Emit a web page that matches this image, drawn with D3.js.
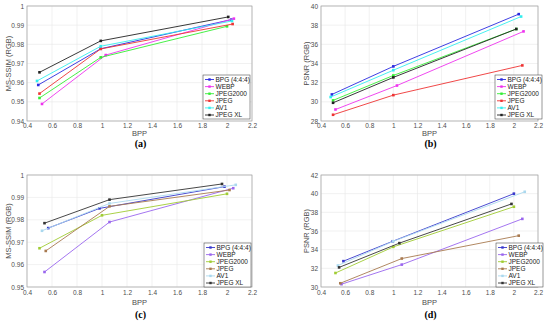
<!DOCTYPE html>
<html>
<head>
<meta charset="utf-8">
<script src="https://cdn.jsdelivr.net/npm/d3@7"></script>
<style>
  body { margin: 0; background: #fff; }
  svg { font-family: "Liberation Sans", Arial, sans-serif; }
  .tick text { fill: #4d4d4d; font-size: 6.5px; }
  .axis-label { fill: #4d4d4d; font-size: 7.5px; }
  .panel-label { font-family: "Liberation Serif", "DejaVu Serif", serif; font-weight: bold; font-size: 10px; }
  .legend text { font-size: 6.5px; fill: #222; }
</style>
</head>
<body>
<svg width="550" height="334"></svg>
<script>
var codecs = ["BPG (4:4:4)", "WEBP", "JPEG2000", "JPEG", "AV1", "JPEG XL"];
var xTicks = [0.4, 0.6, 0.8, 1, 1.2, 1.4, 1.6, 1.8, 2, 2.2];

// (a) MS-SSIM
var aBpp  = [[0.49, 0.99, 2.035], [0.52, 1.03, 2.055], [0.50, 0.99, 2.0], [0.50, 0.99, 2.045], [0.48, 0.99, 2.04], [0.50, 0.99, 2.01]];
var aSsim = [[0.9588, 0.9777, 0.9929], [0.9489, 0.9744, 0.9934], [0.9520, 0.9732, 0.9894], [0.9543, 0.9776, 0.9906], [0.9609, 0.9790, 0.9922], [0.9654, 0.9818, 0.9943]];

// (b) PSNR
var bBpp  = [[0.49, 1.0, 2.04], [0.52, 1.03, 2.08], [0.50, 1.0, 2.02], [0.50, 1.0, 2.07], [0.48, 1.0, 2.06], [0.50, 1.0, 2.02]];
var bPsnr = [[30.77, 33.7, 39.15], [29.2, 31.7, 37.35], [30.15, 32.75, 37.6], [28.65, 30.7, 33.8], [30.5, 33.3, 38.9], [29.9, 32.55, 37.6]];

// (c) MS-SSIM
var cBpp  = [[0.57, 0.98, 1.98], [0.54, 1.06, 2.05], [0.50, 1.0, 2.0], [0.55, 1.06, 2.02], [0.52, 1.06, 2.07], [0.54, 1.06, 1.96]];
var cSsim = [[0.9763, 0.9851, 0.9948], [0.9567, 0.9790, 0.9941], [0.9673, 0.9820, 0.9916], [0.9661, 0.9860, 0.9933], [0.9751, 0.9873, 0.9956], [0.9785, 0.9890, 0.9960]];

// (d) PSNR
var dBpp  = [[0.586, 0.995, 2.0], [0.57, 1.07, 2.07], [0.52, 1.0, 2.0], [0.56, 1.07, 2.04], [0.54, 1.0, 2.09], [0.55, 1.05, 1.98]];
var dPsnr = [[32.77, 34.9, 40.0], [30.3, 32.4, 37.3], [31.5, 34.3, 38.6], [30.4, 33.05, 35.5], [32.3, 34.9, 40.2], [32.1, 34.7, 38.9]];

var coloursA = ["#2a2ae0", "#ee33ee", "#33ee33", "#ee3333", "#33eeee", "#222222"];
var coloursC = ["#3838cc", "#9a66ee", "#a0cc33", "#a87a50", "#aad8ee", "#333333"];

var svg = d3.select("svg");

var panels = [
  {label: "(a)", ylab: "MS-SSIM (RGB)", box: [27, 252, 6, 121], ydom: [0.94, 1], yticks: d3.range(0.94, 1.0001, 0.01), bpp: aBpp, val: aSsim, col: coloursA, pad: 2, xlabY: 135.5, tagY: 147, ylabX: 8, leg: [203, 75]},
  {label: "(b)", ylab: "PSNR (RGB)", box: [321, 538, 6, 121], ydom: [28, 40], yticks: d3.range(28, 40.1, 2), bpp: bBpp, val: bPsnr, col: coloursA, pad: 2, xlabY: 135.5, tagY: 147, ylabX: 306, leg: [495, 75]},
  {label: "(c)", ylab: "MS-SSIM (RGB)", box: [27, 252, 175, 287], ydom: [0.95, 1], yticks: d3.range(0.95, 1.0001, 0.01), bpp: cBpp, val: cSsim, col: coloursC, pad: 3, xlabY: 304.5, tagY: 318, ylabX: 8, leg: [204, 243]},
  {label: "(d)", ylab: "PSNR (RGB)", box: [321, 538, 175, 287], ydom: [30, 42], yticks: d3.range(30, 42.1, 2), bpp: dBpp, val: dPsnr, col: coloursC, pad: 3, xlabY: 304.5, tagY: 318, ylabX: 306, leg: [496, 243]}
];

panels.forEach(function(p) {
  var x = d3.scaleLinear().domain([0.4, 2.2]).range([p.box[0], p.box[1]]);
  var y = d3.scaleLinear().domain(p.ydom).range([p.box[3], p.box[2]]);
  var g = svg.append("g");

  // grid
  g.selectAll(".gx").data(xTicks).enter().append("line")
      .attr("x1", function(d) { return x(d); }).attr("x2", function(d) { return x(d); })
      .attr("y1", p.box[2]).attr("y2", p.box[3])
      .attr("stroke", "#e8e8e8").attr("stroke-width", 0.6);
  g.selectAll(".gy").data(p.yticks).enter().append("line")
      .attr("x1", p.box[0]).attr("x2", p.box[1])
      .attr("y1", function(d) { return y(d); }).attr("y2", function(d) { return y(d); })
      .attr("stroke", "#e8e8e8").attr("stroke-width", 0.6);

  // axes
  var xa = g.append("g").attr("transform", "translate(0," + p.box[3] + ")")
      .call(d3.axisBottom(x).tickValues(xTicks).tickSize(0).tickPadding(p.pad).tickFormat(d3.format("~g")));
  var ya = g.append("g").attr("transform", "translate(" + p.box[0] + ",0)")
      .call(d3.axisLeft(y).tickValues(p.yticks).tickSize(0).tickPadding(3).tickFormat(function(d) { return +d.toFixed(2); }));
  xa.select(".domain").remove();
  ya.select(".domain").remove();

  g.append("rect")
      .attr("x", p.box[0]).attr("y", p.box[2])
      .attr("width", p.box[1] - p.box[0]).attr("height", p.box[3] - p.box[2])
      .attr("fill", "none").attr("stroke", "#a0a0a0").attr("stroke-width", 0.7);

  // series
  var line = d3.line().x(function(d) { return x(d[0]); }).y(function(d) { return y(d[1]); });
  codecs.forEach(function(c, i) {
    var pts = p.bpp[i].map(function(b, j) { return [b, p.val[i][j]]; });
    g.append("path").datum(pts).attr("d", line)
        .attr("fill", "none").attr("stroke", p.col[i]).attr("stroke-width", 0.9);
    g.selectAll(".m" + i).data(pts).enter().append("rect")
        .attr("x", function(d) { return x(d[0]) - 1.3; })
        .attr("y", function(d) { return y(d[1]) - 1.3; })
        .attr("width", 2.6).attr("height", 2.6)
        .attr("fill", p.col[i]);
  });

  // labels
  g.append("text").attr("class", "axis-label")
      .attr("x", (p.box[0] + p.box[1]) / 2).attr("y", p.xlabY)
      .attr("text-anchor", "middle").text("BPP");
  g.append("text").attr("class", "axis-label")
      .attr("transform", "translate(" + (p.ylabX + 3) + "," + ((p.box[2] + p.box[3]) / 2) + ") rotate(-90)")
      .attr("text-anchor", "middle").text(p.ylab);
  g.append("text").attr("class", "panel-label")
      .attr("x", (p.box[0] + p.box[1]) / 2 + 1).attr("y", p.tagY)
      .attr("text-anchor", "middle").text(p.label);

  // legend
  var lg = g.append("g").attr("class", "legend").attr("transform", "translate(" + p.leg[0] + "," + p.leg[1] + ")");
  lg.append("rect").attr("width", 47).attr("height", 44)
      .attr("fill", "#fff").attr("stroke", "#333").attr("stroke-width", 0.5);
  codecs.forEach(function(c, i) {
    var yy = 4.5 + i * 7.1;
    lg.append("line").attr("x1", 2).attr("x2", 11).attr("y1", yy).attr("y2", yy)
        .attr("stroke", p.col[i]).attr("stroke-width", 0.9);
    lg.append("rect").attr("x", 5.3).attr("y", yy - 1.2).attr("width", 2.4).attr("height", 2.4).attr("fill", p.col[i]);
    lg.append("text").attr("x", 12.5).attr("y", yy + 2.3).text(c);
  });
});
</script>
</body>
</html>
